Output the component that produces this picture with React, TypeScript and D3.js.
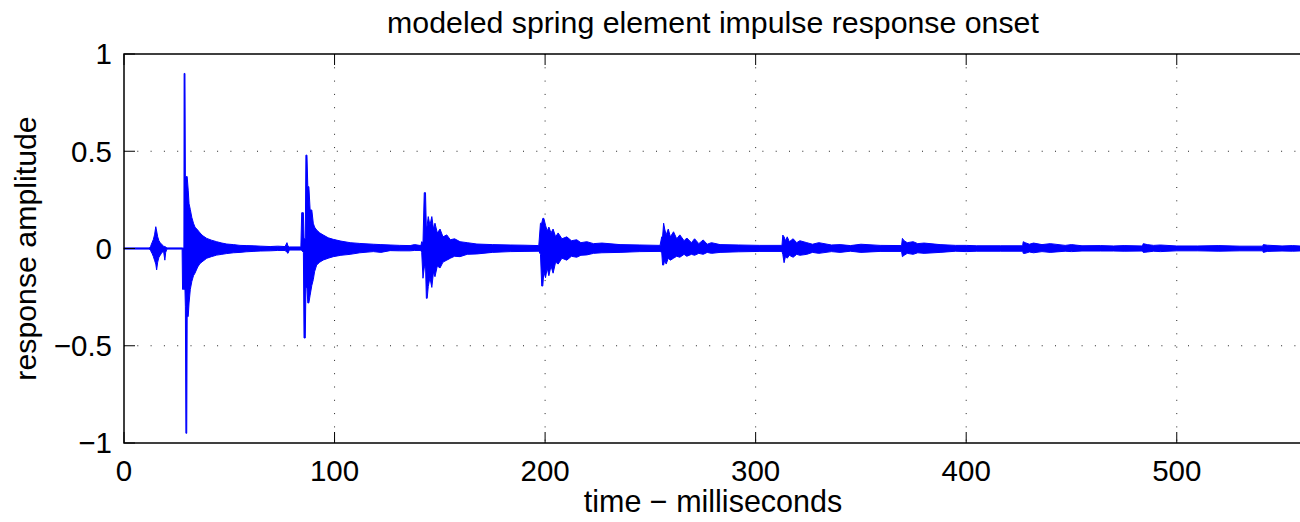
import React from "react";
import * as d3 from "d3";

// Envelope of the impulse response (time in ms, amplitude).
// Rows are grouped identically in the three arrays.
const sampleTimes: number[] = [
  0, 12.0, 12.6, 13.3, 13.9, 14.5, 15.1, 15.5, 16.0, 16.6, 17.2, 18.0, 18.8, 19.4, 19.8, 20.4,
  27.6, 27.8, 28.3, 28.45, 28.55, 28.95, 29.15, 29.4, 29.8, 30.0, 30.5, 30.9, 31.5, 32.2, 33.0,
  33.7, 35.0, 36.1, 37.5, 39.3, 41.5, 44.0, 46.5, 48.8, 52.0, 55.1, 58, 61.3, 65, 69.4, 73,
  76.5, 77.4, 77.9, 78.5, 84.0, 84.4, 85.2, 85.5, 86.1, 86.4, 86.9, 87.3, 87.8, 88.4, 89.2,
  89.9, 90.5, 91.5, 93, 94.7, 97, 99.4, 103, 107.4, 112, 118.4, 122, 126.4, 131, 135.9, 138,
  141.0, 141.4, 142.0, 142.6, 143.2, 143.6, 144.0, 144.5, 145.3, 146.2, 147.0, 147.7, 148.8,
  150.1, 151.5, 153.3, 155, 157, 159.6, 163, 167.6, 175, 183.4, 190, 197.0, 197.8,
  198.4, 198.9, 199.4, 200.2, 201.0, 201.8, 202.8, 203.8, 205, 206.2, 208, 210.3,
  212.5, 215, 217, 219.8, 223, 227, 235.6, 245, 254.6, 255.4, 255.8, 256.3,
  256.8, 257.5, 258.5, 259.5, 261.0, 262.5, 264, 266, 267.3, 269.5, 271, 273, 275.1, 277, 279, 283.1,
  292, 302, 312.5, 312.9, 313.5, 314.2, 315, 316, 317.8, 319.5, 321, 324.3, 327, 330,
  336, 340.1, 345, 350, 359.1, 369.3, 369.7, 370.5, 372, 374.8, 377, 380, 387.6, 395,
  400, 405, 416.2, 426.8, 427.1, 428, 430, 432, 436, 439.9, 447, 450, 455, 463.7,
  470, 475, 483.7, 484.1, 486, 489, 492.2, 500, 510, 520, 530, 540.8, 541.1, 543,
  550, 555, 560,
];

const upperEnvelope: number[] = [
  0.003, 0.003, 0.01, 0.03, 0.045, 0.07, 0.112, 0.09, 0.06, 0.04, 0.03, 0.02, 0.012, 0.01, 0.008, 0.003,
  0.003, 0.003, 0.003, 0.003, 0.9, 0.9, 0.37, 0.37, 0.37, 0.37, 0.3, 0.23, 0.2, 0.16, 0.13,
  0.11, 0.095, 0.08, 0.065, 0.052, 0.043, 0.035, 0.028, 0.023, 0.02, 0.016, 0.015, 0.014, 0.012, 0.01, 0.012,
  0.01, 0.03, 0.012, 0.008, 0.008, 0.184, 0.184, 0.05, 0.05, 0.48, 0.48, 0.318, 0.318, 0.198, 0.198,
  0.13, 0.11, 0.095, 0.08, 0.069, 0.055, 0.047, 0.038, 0.03, 0.026, 0.022, 0.02, 0.018, 0.016, 0.015, 0.02,
  0.015, 0.035, 0.03, 0.287, 0.287, 0.1, 0.12, 0.164, 0.12, 0.164, 0.1, 0.13, 0.08,
  0.1, 0.06, 0.07, 0.045, 0.05, 0.035, 0.03, 0.023, 0.02, 0.018, 0.017, 0.015, 0.13,
  0.13, 0.155, 0.155, 0.12, 0.09, 0.11, 0.08, 0.1, 0.06, 0.08, 0.05, 0.06,
  0.04, 0.045, 0.03, 0.035, 0.025, 0.028, 0.02, 0.018, 0.016, 0.06, 0.06, 0.13,
  0.1, 0.07, 0.1, 0.06, 0.086, 0.05, 0.07, 0.04, 0.054, 0.03, 0.05, 0.025, 0.044, 0.022, 0.03, 0.02,
  0.018, 0.016, 0.016, 0.069, 0.06, 0.04, 0.06, 0.035, 0.05, 0.03, 0.04, 0.03, 0.022, 0.03,
  0.018, 0.02, 0.015, 0.022, 0.016, 0.015, 0.052, 0.04, 0.03, 0.035, 0.025, 0.028, 0.02, 0.016,
  0.016, 0.014, 0.014, 0.014, 0.035, 0.03, 0.022, 0.028, 0.02, 0.025, 0.016, 0.02, 0.014, 0.015,
  0.013, 0.015, 0.013, 0.025, 0.02, 0.016, 0.018, 0.013, 0.013, 0.015, 0.012, 0.012, 0.02, 0.017,
  0.013, 0.015, 0.012,
];

const lowerEnvelope: number[] = [
  -0.003, -0.003, -0.01, -0.025, -0.04, -0.06, -0.08, -0.11, -0.07, -0.045, -0.035, -0.02, -0.015, -0.06, -0.02, -0.003,
  -0.003, -0.21, -0.21, -0.2, -0.21, -0.21, -0.3, -0.95, -0.95, -0.35, -0.35, -0.28, -0.21, -0.17, -0.14,
  -0.127, -0.095, -0.077, -0.065, -0.05, -0.042, -0.034, -0.03, -0.026, -0.022, -0.02, -0.017, -0.015, -0.013, -0.012, -0.01,
  -0.01, -0.02, -0.025, -0.008, -0.008, -0.01, -0.02, -0.46, -0.46, -0.2, -0.2, -0.28, -0.28, -0.24, -0.19,
  -0.16, -0.12, -0.085, -0.07, -0.059, -0.05, -0.042, -0.035, -0.03, -0.022, -0.016, -0.02, -0.011, -0.012, -0.012, -0.01,
  -0.01, -0.02, -0.153, -0.1, -0.08, -0.256, -0.256, -0.196, -0.15, -0.2, -0.12, -0.145, -0.09,
  -0.1, -0.07, -0.06, -0.05, -0.04, -0.042, -0.03, -0.028, -0.02, -0.016, -0.015, -0.014, -0.03,
  -0.193, -0.193, -0.12, -0.15, -0.1, -0.14, -0.09, -0.127, -0.07, -0.08, -0.05, -0.06,
  -0.04, -0.045, -0.035, -0.033, -0.025, -0.022, -0.02, -0.016, -0.015, -0.02, -0.085, -0.085,
  -0.06, -0.08, -0.05, -0.06, -0.05, -0.04, -0.045, -0.03, -0.04, -0.03, -0.035, -0.025, -0.03, -0.02, -0.025, -0.02,
  -0.017, -0.015, -0.015, -0.03, -0.073, -0.04, -0.05, -0.035, -0.045, -0.03, -0.035, -0.03, -0.02, -0.025,
  -0.016, -0.02, -0.014, -0.02, -0.015, -0.015, -0.042, -0.035, -0.025, -0.03, -0.022, -0.025, -0.02, -0.014,
  -0.016, -0.014, -0.014, -0.014, -0.025, -0.025, -0.018, -0.022, -0.016, -0.02, -0.014, -0.016, -0.013, -0.013,
  -0.013, -0.014, -0.013, -0.02, -0.018, -0.014, -0.016, -0.012, -0.012, -0.014, -0.012, -0.012, -0.02, -0.015,
  -0.013, -0.014, -0.012,
];

const xTicks: number[] = [0, 100, 200, 300, 400, 500];
const yTicks: number[] = [-1, -0.5, 0, 0.5, 1];
const yTickLabels: string[] = ["\u22121", "\u22120.5", "0", "0.5", "1"];

const titleText = "modeled spring element impulse response onset";
const xLabelText = "time \u2212 milliseconds";
const yLabelText = "response amplitude";

const W = 1300;
const H = 522;
const FONT = "'Liberation Sans', Arial, Helvetica, sans-serif";

export default function App() {
  const left = 124;
  const top = 54;
  const bottom = 443;
  const xMax = 560;
  const pxPerMs = 2.1055;
  const x = d3.scaleLinear().domain([0, xMax]).range([left, left + xMax * pxPerMs]);
  const y = d3.scaleLinear().domain([-1, 1]).range([bottom, top]);
  const right = x(xMax);

  const n = Math.min(sampleTimes.length, upperEnvelope.length, lowerEnvelope.length);
  const pts = sampleTimes.slice(0, n).map((t, i) => ({ t, u: upperEnvelope[i], l: lowerEnvelope[i] }));
  const area = d3
    .area<{ t: number; u: number; l: number }>()
    .x((d) => x(d.t))
    .y0((d) => y(d.l))
    .y1((d) => y(d.u))
    .curve(d3.curveLinear);

  const tickLen = 11;
  const grid = "1,12.3";

  return (
    <svg
      width={W}
      height={H}
      style={{ position: "absolute", left: 0, top: 0, background: "#fff" }}
      fontFamily={FONT}
    >
      <rect x={0} y={0} width={W} height={H} fill="#fff" />
      {xTicks
        .filter((t) => t > 0)
        .map((t) => (
          <line key={"gx" + t} x1={x(t)} x2={x(t)} y1={top} y2={bottom} stroke="#222" strokeWidth={1} strokeDasharray={grid} />
        ))}
      {yTicks
        .filter((t) => t > -1 && t < 1)
        .map((t) => (
          <line key={"gy" + t} x1={left} x2={right} y1={y(t)} y2={y(t)} stroke="#222" strokeWidth={1} strokeDasharray={grid} />
        ))}
      <path d={area(pts) || ""} fill="#0000ff" stroke="#0000ff" strokeWidth={1} strokeLinejoin="round" />
      <rect x={left} y={top} width={right - left} height={bottom - top} fill="none" stroke="#000" strokeWidth={1.5} />
      {xTicks.map((t) => (
        <g key={"tx" + t}>
          <line x1={x(t)} x2={x(t)} y1={bottom} y2={bottom - tickLen} stroke="#000" strokeWidth={1} />
          <line x1={x(t)} x2={x(t)} y1={top} y2={top + tickLen} stroke="#000" strokeWidth={1} />
          <text x={x(t)} y={481} textAnchor="middle" fontSize={29.5} fill="#000">
            {t}
          </text>
        </g>
      ))}
      {yTicks.map((t, i) => (
        <g key={"ty" + t}>
          <line x1={left} x2={left + tickLen} y1={y(t)} y2={y(t)} stroke="#000" strokeWidth={1} />
          <text x={112} y={y(t)} dy="0.35em" textAnchor="end" fontSize={29.5} fill="#000">
            {yTickLabels[i]}
          </text>
        </g>
      ))}
      <text x={713} y={33} textAnchor="middle" fontSize={30.3} fill="#000">
        {titleText}
      </text>
      <text x={713} y={512} textAnchor="middle" fontSize={30.5} fill="#000">
        {xLabelText}
      </text>
      <text transform={`translate(36,${(top + bottom) / 2}) rotate(-90)`} textAnchor="middle" fontSize={30.3} fill="#000">
        {yLabelText}
      </text>
    </svg>
  );
}
